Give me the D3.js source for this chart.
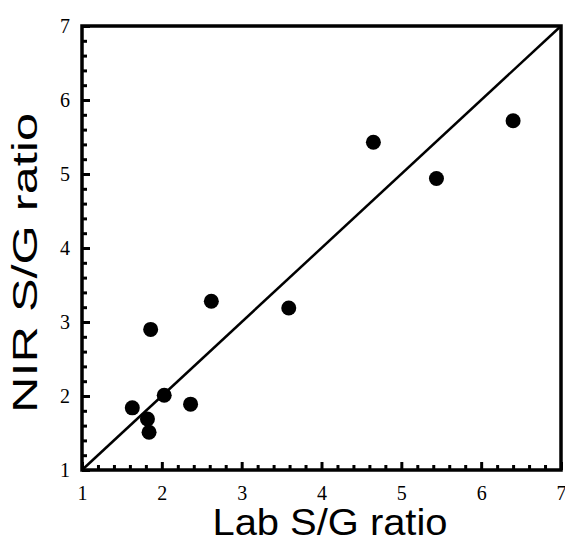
<!DOCTYPE html>
<html>
<head>
<meta charset="utf-8">
<script src="https://d3js.org/d3.v7.min.js"></script>
<style>
  body { margin: 0; background: #fff; }
  .label { font-family: "Liberation Sans", Arial, sans-serif; fill: #000; }
</style>
</head>
<body>
<svg width="565" height="542"></svg>
<script>
// Lab vs NIR S/G ratio
const labSG = [1.63, 1.82, 1.84, 2.03, 2.36, 1.86, 2.62, 3.59, 4.65, 5.44, 6.40];
const nirSG = [1.84, 1.69, 1.51, 2.01, 1.89, 2.90, 3.28, 3.19, 5.43, 4.94, 5.72];
const majorTicks = [1, 2, 3, 4, 5, 6, 7];
const minorTicks = d3.range(1, 7.001, 0.2).filter(v => Math.abs(v - Math.round(v)) > 1e-6);
const identityLine = [1, 7];

const svg = d3.select('svg');
const plotL = 82, plotR = 561, plotT = 26, plotB = 470;
const serif = 'Liberation Serif, Times New Roman, serif';

const x = d3.scaleLinear().domain([1, 7]).range([plotL, plotR]);
const y = d3.scaleLinear().domain([1, 7]).range([plotB, plotT]);

// axes - major + minor ticks pointing inward
const gx = svg.append('g')
    .attr('transform', `translate(0,${plotB})`)
    .call(d3.axisBottom(x).tickValues(majorTicks).tickSize(-8).tickPadding(16).tickFormat(d3.format('d')))
    .attr('font-family', serif)
    .attr('font-size', 20);
svg.append('g')
    .attr('transform', `translate(0,${plotB})`)
    .call(d3.axisBottom(x).tickValues(minorTicks).tickSize(-5).tickFormat(''));

const gy = svg.append('g')
    .attr('transform', `translate(${plotL},0)`)
    .call(d3.axisLeft(y).tickValues(majorTicks).tickSize(-8).tickPadding(12).tickFormat(d3.format('d')))
    .attr('font-family', serif)
    .attr('font-size', 20);
svg.append('g')
    .attr('transform', `translate(${plotL},0)`)
    .call(d3.axisLeft(y).tickValues(minorTicks).tickSize(-5).tickFormat(''));

svg.selectAll('.domain').remove();
svg.selectAll('.tick line').attr('stroke', '#000').attr('stroke-width', 3);
gx.selectAll('text').attr('fill', '#000').attr('font-size', 20).attr('font-family', serif);
gy.selectAll('text').attr('fill', '#000').attr('font-size', 20).attr('font-family', serif);

// 1:1 line
svg.append('line')
    .attr('x1', x(identityLine[0])).attr('y1', y(identityLine[0]))
    .attr('x2', x(identityLine[1])).attr('y2', y(identityLine[1]))
    .attr('stroke', '#000').attr('stroke-width', 2.5);

// frame
svg.append('rect')
    .attr('x', plotL).attr('y', plotT)
    .attr('width', plotR - plotL).attr('height', plotB - plotT)
    .attr('fill', 'none').attr('stroke', '#000').attr('stroke-width', 3.5);

svg.append('g')
    .selectAll('circle')
    .data(labSG)
    .enter()
    .append('circle')
    .attr('cx', d => x(d))
    .attr('cy', (d, i) => y(nirSG[i]))
    .attr('r', 7.5)
    .attr('fill', '#000');

svg.append('text')
    .attr('class', 'label')
    .attr('x', 330)
    .attr('y', 535)
    .attr('text-anchor', 'middle')
    .attr('font-size', 37)
    .attr('textLength', 235)
    .attr('lengthAdjust', 'spacingAndGlyphs')
    .text('Lab S/G ratio');

svg.append('text')
    .attr('class', 'label')
    .attr('transform', 'translate(37,263) rotate(-90)')
    .attr('text-anchor', 'middle')
    .attr('font-size', 35)
    .attr('textLength', 300)
    .attr('lengthAdjust', 'spacingAndGlyphs')
    .text('NIR S/G ratio');
</script>
</body>
</html>
